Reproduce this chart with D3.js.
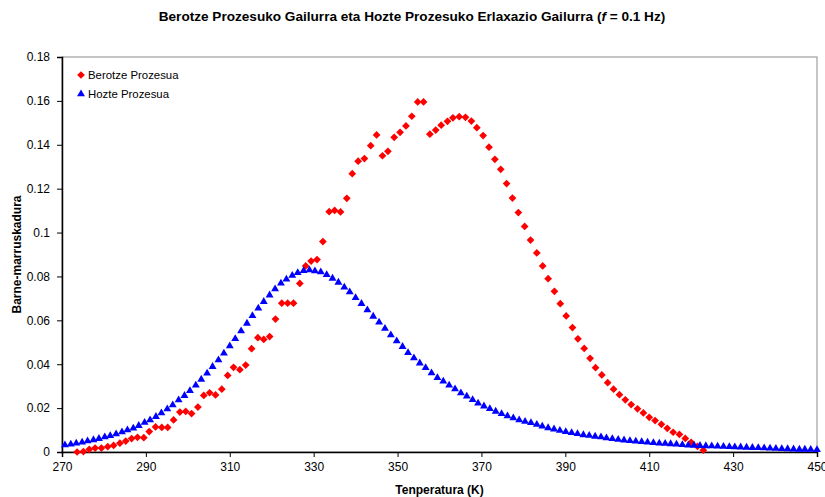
<!DOCTYPE html>
<html>
  <head>
    <meta charset='UTF-8'>
    <style>
    body {
      margin: 0;
      background: #fff;
    }
    svg {
      font-family: 'Liberation Sans', Arial, sans-serif;
    }
    </style>
  </head>
  <body>
  <script src='https://cdn.jsdelivr.net/npm/d3@7/dist/d3.min.js'></script>
  <script>

    // Berotze Prozesua (heating) - temperature (K) and peak value
    var heatT = [273.6, 275.1, 276.5, 277.9, 279.4, 280.9, 282.3, 283.8, 285.2, 286.6,
      288.0, 289.5, 290.8, 292.3, 293.8, 295.2, 296.6, 298.1, 299.5, 300.9,
      302.4, 303.8, 305.2, 306.6, 308.1, 309.5, 310.9, 312.4, 313.8, 315.2,
      316.7, 318.1, 319.5, 320.9, 322.4, 323.8, 325.2, 326.7, 328.1, 329.4,
      330.8, 332.2, 333.7, 335.0, 336.4, 337.9, 339.2, 340.6, 342.1, 343.6,
      345.0, 346.4, 347.7, 349.2, 350.6, 352.0, 353.4, 354.8, 356.2, 357.7,
      359.1, 360.4, 361.9, 363.2, 364.7, 366.2, 367.6, 368.9, 370.4, 371.8,
      373.2, 374.6, 376.0, 377.4, 378.8, 380.3, 381.7, 383.2, 384.6, 385.9,
      387.4, 388.8, 390.2, 391.7, 393.0, 394.5, 395.9, 397.2, 398.7, 400.1,
      401.5, 402.9, 404.3, 405.7, 407.2, 408.6, 410.0, 411.4, 412.9, 414.3,
      415.7, 417.2, 418.6, 420.0, 421.5, 422.9];
    var heatV = [0.0000, 0.0002, 0.0012, 0.0018, 0.0018, 0.0024, 0.0030, 0.0040, 0.0050, 0.0061,
      0.0067, 0.0065, 0.0093, 0.0114, 0.0112, 0.0112, 0.0146, 0.0182, 0.0185, 0.0175,
      0.0205, 0.0258, 0.0270, 0.0260, 0.0286, 0.0349, 0.0386, 0.0375, 0.0396, 0.0471,
      0.0521, 0.0513, 0.0526, 0.0606, 0.0678, 0.0678, 0.0678, 0.0768, 0.0848, 0.0870,
      0.0877, 0.0959, 0.1095, 0.1101, 0.1094, 0.1156, 0.1268, 0.1325, 0.1337, 0.1396,
      0.1445, 0.1350, 0.1370, 0.1434, 0.1457, 0.1486, 0.1530, 0.1595, 0.1595, 0.1448,
      0.1467, 0.1489, 0.1507, 0.1523, 0.1528, 0.1525, 0.1508, 0.1478, 0.1442, 0.1389,
      0.1334, 0.1288, 0.1223, 0.1157, 0.1091, 0.1028, 0.0966, 0.0907, 0.0848, 0.0790,
      0.0732, 0.0676, 0.0620, 0.0567, 0.0516, 0.0472, 0.0427, 0.0384, 0.0351, 0.0316,
      0.0286, 0.0261, 0.0238, 0.0216, 0.0197, 0.0178, 0.0158, 0.0143, 0.0126, 0.0108,
      0.0090, 0.0080, 0.0062, 0.0044, 0.0026, 0.0008];

    // Hozte Prozesua (cooling)
    var coolT = [270.7, 272.1, 273.4, 274.8, 276.1, 277.5, 278.8, 280.2, 281.5, 282.9,
      284.3, 285.6, 287.0, 288.3, 289.7, 291.0, 292.4, 293.7, 295.1, 296.4,
      297.8, 299.2, 300.5, 301.9, 303.2, 304.6, 305.9, 307.3, 308.6, 310.0,
      311.3, 312.7, 314.1, 315.4, 316.8, 318.1, 319.5, 320.8, 322.2, 323.5,
      324.9, 326.2, 327.6, 329.0, 330.3, 331.7, 333.1, 334.5, 335.9, 337.3,
      338.6, 340.0, 341.4, 342.8, 344.2, 345.6, 347.0, 348.4, 349.8, 351.2,
      352.5, 353.9, 355.3, 356.7, 358.1, 359.5, 360.9, 362.3, 363.7, 365.1,
      366.5, 367.9, 369.2, 370.6, 372.0, 373.4, 374.8, 376.2, 377.6, 379.0,
      380.4, 381.8, 383.2, 384.5, 385.9, 387.3, 388.7, 390.1, 391.5, 392.9,
      394.3, 395.7, 397.1, 398.5, 399.8, 401.2, 402.6, 404.0, 405.4, 406.8,
      408.2, 409.6, 411.0, 412.4, 413.8, 415.1, 416.5, 417.9, 419.3, 420.7,
      422.1, 423.5, 424.9, 426.3, 427.7, 429.1, 430.4, 431.8, 433.2, 434.6,
      436.0, 437.4, 438.8, 440.2, 441.6, 443.0, 444.4, 445.8, 447.1, 448.5,
      450.0];
    var coolV = [0.0032, 0.0035, 0.0040, 0.0044, 0.0050, 0.0055, 0.0061, 0.0068, 0.0074, 0.0082,
      0.0091, 0.0100, 0.0108, 0.0120, 0.0134, 0.0146, 0.0161, 0.0178, 0.0196, 0.0214,
      0.0237, 0.0257, 0.0279, 0.0304, 0.0331, 0.0359, 0.0389, 0.0419, 0.0450, 0.0483,
      0.0516, 0.0551, 0.0586, 0.0621, 0.0655, 0.0685, 0.0715, 0.0743, 0.0769, 0.0787,
      0.0804, 0.0817, 0.0826, 0.0829, 0.0825, 0.0820, 0.0808, 0.0791, 0.0773, 0.0751,
      0.0729, 0.0703, 0.0676, 0.0647, 0.0618, 0.0591, 0.0563, 0.0533, 0.0506, 0.0480,
      0.0452, 0.0428, 0.0405, 0.0384, 0.0360, 0.0338, 0.0322, 0.0304, 0.0287, 0.0269,
      0.0254, 0.0238, 0.0222, 0.0209, 0.0197, 0.0185, 0.0174, 0.0164, 0.0155, 0.0146,
      0.0139, 0.0133, 0.0125, 0.0117, 0.0110, 0.0104, 0.0098, 0.0092, 0.0088, 0.0083,
      0.0078, 0.0075, 0.0071, 0.0068, 0.0064, 0.0060, 0.0057, 0.0054, 0.0051, 0.0049,
      0.0047, 0.0044, 0.0042, 0.0040, 0.0039, 0.0037, 0.0035, 0.0033, 0.0031, 0.0030,
      0.0029, 0.0028, 0.0027, 0.0026, 0.0025, 0.0024, 0.0023, 0.0022, 0.0021, 0.0020,
      0.0019, 0.0018, 0.0017, 0.0016, 0.0015, 0.0014, 0.0013, 0.0012, 0.0012, 0.0011,
      0.0010];

    var xTicks = [270, 290, 310, 330, 350, 370, 390, 410, 430, 450];
    var yTicks = [0, 0.02, 0.04, 0.06, 0.08, 0.1, 0.12, 0.14, 0.16, 0.18];
    var seriesNames = ['Berotze Prozesua', 'Hozte Prozesua'];

    var width = 825, height = 497;
    var plot = {left: 62, right: 817, top: 57, bottom: 452};

    var svg = d3.select('body')
      .append('svg')
      .attr('width', width)
      .attr('height', height);

    var x = d3.scaleLinear().domain([270, 450]).range([plot.left, plot.right]);
    var y = d3.scaleLinear().domain([0, 0.18]).range([plot.bottom, plot.top]);

    // plot area border (gray top/right)
    svg.append('rect')
      .attr('x', plot.left).attr('y', plot.top)
      .attr('width', plot.right - plot.left).attr('height', plot.bottom - plot.top)
      .attr('fill', 'none')
      .attr('stroke', '#8c8c8c')
      .attr('stroke-width', 1);

    var xAxis = svg.append('g')
      .attr('transform', 'translate(0,' + plot.bottom + ')')
      .call(d3.axisBottom(x).tickValues(xTicks).tickSize(5).tickPadding(5).tickFormat(d3.format('d')));

    var yAxis = svg.append('g')
      .attr('transform', 'translate(' + plot.left + ',0)')
      .call(d3.axisLeft(y).tickValues(yTicks).tickSize(5).tickPadding(7)
        .tickFormat(function(d) { return String(+d.toFixed(2)); }));

    [xAxis, yAxis].forEach(function(g) {
      g.selectAll('path.domain').attr('stroke', '#000').attr('stroke-width', 1.5);
      g.selectAll('.tick line').attr('stroke', '#000');
      g.selectAll('.tick text')
        .attr('fill', '#000')
        .style('font-family', "'Liberation Sans', Arial, sans-serif")
        .style('font-size', '12px');
    });

    var heat = d3.zip(heatT, heatV);
    var cool = d3.zip(coolT, coolV);

    var diamond = d3.symbol().type(d3.symbolSquare).size(30);
    var triangle = d3.symbol().type(d3.symbolTriangle).size(27);

    svg.append('g').selectAll('path')
      .data(heat)
      .enter()
      .append('path')
      .attr('d', diamond)
      .attr('transform', function(d) {
        return 'translate(' + x(d[0]) + ',' + y(d[1]) + ') rotate(45)';
      })
      .attr('fill', '#ff0000');

    svg.append('g').selectAll('path')
      .data(cool)
      .enter()
      .append('path')
      .attr('d', triangle)
      .attr('transform', function(d) {
        return 'translate(' + x(d[0]) + ',' + y(d[1]) + ')';
      })
      .attr('fill', '#0000ff');

    // legend
    var legend = svg.append('g');
    legend.append('path')
      .attr('d', diamond)
      .attr('transform', 'translate(81,75) rotate(45)')
      .attr('fill', '#ff0000');
    legend.append('path')
      .attr('d', triangle)
      .attr('transform', 'translate(81,94)')
      .attr('fill', '#0000ff');
    legend.selectAll('text')
      .data(seriesNames)
      .enter()
      .append('text')
      .attr('x', 88)
      .attr('y', function(d, i) { return 79 + i * 19; })
      .style('font-size', '11.4px')
      .text(function(d) { return d; });

    // titles
    var title = svg.append('text')
      .attr('x', 412)
      .attr('y', 21)
      .attr('text-anchor', 'middle')
      .style('font-size', '13.6px')
      .style('font-weight', 'bold');
    title.append('tspan').text('Berotze Prozesuko Gailurra eta Hozte Prozesuko Erlaxazio Gailurra (');
    title.append('tspan').style('font-style', 'italic').text('f');
    title.append('tspan').text(' = 0.1 Hz)');

    svg.append('text')
      .attr('x', (plot.left + plot.right) / 2)
      .attr('y', 494)
      .attr('text-anchor', 'middle')
      .style('font-size', '12px')
      .style('font-weight', 'bold')
      .text('Tenperatura (K)');

    svg.append('text')
      .attr('transform', 'translate(21,' + (plot.top + plot.bottom) / 2 + ') rotate(-90)')
      .attr('text-anchor', 'middle')
      .style('font-size', '12px')
      .style('font-weight', 'bold')
      .text('Barne-marruskadura');

  </script>
  </body>
</html>
